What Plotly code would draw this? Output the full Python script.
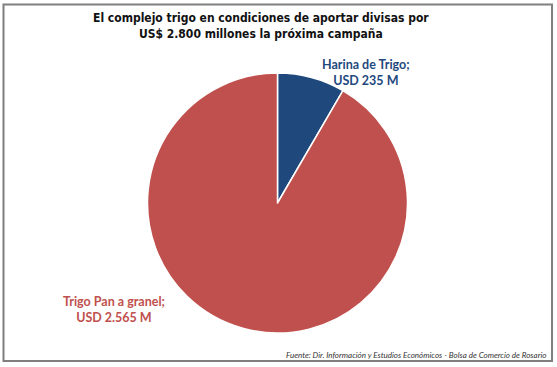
import plotly.graph_objects as go

categories = ["Harina de Trigo", "Trigo Pan a granel"]
values = [235, 2565]
value_labels = ["USD 235 M", "USD 2.565 M"]
colors = ["#1F497D", "#C0504D"]

W, H = 557, 367

fig = go.Figure(go.Pie(
    labels=categories,
    values=values,
    sort=False,
    direction="clockwise",
    rotation=0,
    marker=dict(colors=colors, line=dict(color="white", width=1.5)),
    textinfo="none",
    hoverinfo="label+value",
    showlegend=False,
    domain=dict(x=[147.5 / W, 407.5 / W], y=[(H - 333) / H, (H - 73) / H]),
))

label_pos = [(366, 72, colors[0]), (114, 309, colors[1])]
for cat, vl, (x, y, c) in zip(categories, value_labels, label_pos):
    fig.add_annotation(
        x=x / W, y=1 - y / H, xref="paper", yref="paper",
        text=f"{cat};<br>{vl}", showarrow=False, align="center",
        font=dict(family="Lato", size=12.5, color=c, weight="bold"),
        xanchor="center", yanchor="middle",
    )

fig.add_annotation(
    x=261 / W, y=1 - 26 / H, xref="paper", yref="paper",
    text="El complejo trigo en condiciones de aportar divisas por<br>US$ 2.800 millones la próxima campaña",
    showarrow=False, align="center",
    font=dict(family="DejaVu Sans Condensed", size=12, color="#111111", weight="bold"),
    xanchor="center", yanchor="middle",
)

fig.add_annotation(
    x=548 / W, y=1 - 355 / H, xref="paper", yref="paper",
    text="Fuente: Dir. Información y Estudios Económicos - Bolsa de Comercio de Rosario",
    showarrow=False, align="right",
    font=dict(family="Lato", size=8, color="#333333", style="italic"),
    xanchor="right", yanchor="middle",
)

fig.add_shape(type="rect", xref="paper", yref="paper",
              x0=3.5 / W, x1=552 / W, y0=1 - 361 / H, y1=1 - 4.5 / H,
              line=dict(color="#7f7f7f", width=2))

fig.update_layout(
    width=W, height=H,
    margin=dict(l=0, r=0, t=0, b=0),
    paper_bgcolor="white", plot_bgcolor="white",
)

fig.write_html("out.html", config={"displayModeBar": False},
               post_script="document.body.style.margin='0';document.body.style.padding='0';")
